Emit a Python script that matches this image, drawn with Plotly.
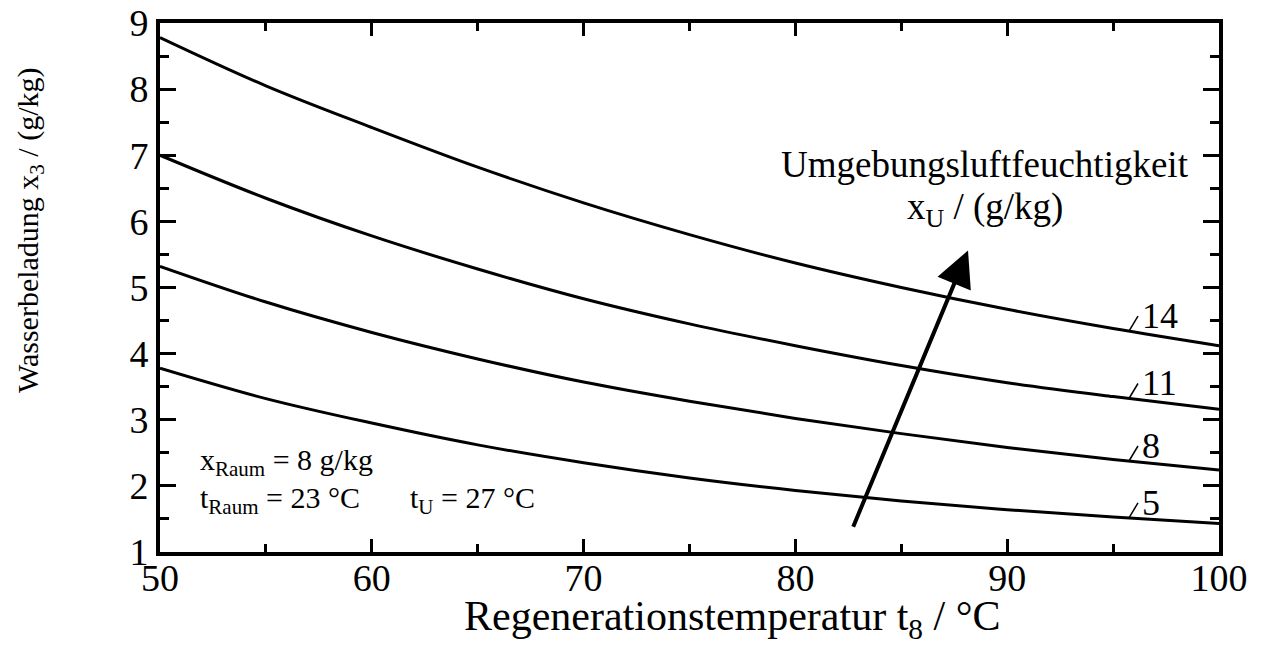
import plotly.graph_objects as go

# Regeneration temperature t8 in degC
t_reg = [50, 55, 60, 65, 70, 75, 80, 85, 90, 95, 100]

# Water loading x3 in g/kg for each ambient humidity x_U
x3_u5 = [3.78, 3.32, 2.95, 2.62, 2.35, 2.12, 1.93, 1.77, 1.64, 1.53, 1.43]
x3_u8 = [5.32, 4.78, 4.32, 3.92, 3.57, 3.28, 3.02, 2.79, 2.58, 2.40, 2.24]
x3_u11 = [7.00, 6.35, 5.78, 5.28, 4.83, 4.45, 4.12, 3.82, 3.56, 3.35, 3.16]
x3_u14 = [8.78, 8.05, 7.42, 6.82, 6.28, 5.80, 5.37, 5.00, 4.67, 4.38, 4.12]

curve_labels = ['5', '8', '11', '14']
curves = [x3_u5, x3_u8, x3_u11, x3_u14]

FONT = 'Liberation Serif'
LABEL_X = 95.75  # where the small label ticks sit on the curves


def value_at(xs, ys, xv):
    for i in range(len(xs) - 1):
        if xs[i] <= xv <= xs[i + 1]:
            f = (xv - xs[i]) / (xs[i + 1] - xs[i])
            return ys[i] + f * (ys[i + 1] - ys[i])
    return ys[-1]


fig = go.Figure()
for lab, ys in zip(curve_labels, curves):
    fig.add_trace(go.Scatter(x=t_reg, y=ys, mode='lines', name=lab,
                             line=dict(color='black', width=3, shape='spline'),
                             showlegend=False, hoverinfo='skip'))

shapes = []
annotations = []
for lab, ys in zip(curve_labels, curves):
    yv = value_at(t_reg, ys, LABEL_X)
    # short slanted tick from the curve up to the label
    shapes.append(dict(type='line', xref='x', yref='y',
                       xsizemode='pixel', ysizemode='pixel',
                       xanchor=LABEL_X, yanchor=yv,
                       x0=0, x1=9, y0=0, y1=15,
                       line=dict(color='black', width=1.5)))
    annotations.append(dict(x=LABEL_X, y=yv, xref='x', yref='y', text=lab,
                            showarrow=False, xanchor='left', yanchor='middle',
                            xshift=11, yshift=15,
                            font=dict(family=FONT, size=36, color='black')))

# arrow showing increasing ambient humidity
annotations.append(dict(x=88.15, y=5.56, ax=82.7, ay=1.36,
                        xref='x', yref='y', axref='x', ayref='y', text='',
                        showarrow=True, arrowhead=2, arrowsize=1.8,
                        arrowwidth=4, arrowcolor='black', standoff=0))
annotations.append(dict(x=88.95, y=6.86, xref='x', yref='y',
                        text='Umgebungsluftfeuchtigkeit', showarrow=False,
                        xanchor='center', yanchor='middle',
                        font=dict(family=FONT, size=37, color='black')))
annotations.append(dict(x=88.95, y=6.18, xref='x', yref='y',
                        text='x<sub>U</sub> / (g/kg)', showarrow=False,
                        xanchor='center', yanchor='middle',
                        font=dict(family=FONT, size=37, color='black')))

# boundary conditions
annotations.append(dict(x=51.8, y=2.36, xref='x', yref='y',
                        text='x<sub>Raum</sub> = 8 g/kg', showarrow=False,
                        xanchor='left', yanchor='middle',
                        font=dict(family=FONT, size=30, color='black')))
annotations.append(dict(x=51.8, y=1.79, xref='x', yref='y',
                        text='t<sub>Raum</sub> = 23 °C', showarrow=False,
                        xanchor='left', yanchor='middle',
                        font=dict(family=FONT, size=30, color='black')))
annotations.append(dict(x=61.7, y=1.79, xref='x', yref='y',
                        text='t<sub>U</sub> = 27 °C', showarrow=False,
                        xanchor='left', yanchor='middle',
                        font=dict(family=FONT, size=30, color='black')))

# axis titles placed as annotations (off-centre like the original)
annotations.append(dict(x=732, y=619, xref='paper', yref='paper',
                        text='Regenerationstemperatur t<sub>8</sub> / °C',
                        showarrow=False, xanchor='center', yanchor='middle',
                        font=dict(family=FONT, size=42, color='black')))
annotations.append(dict(x=30, y=230, xref='paper', yref='paper',
                        text='Wasserbeladung x<sub>3</sub> / (g/kg)',
                        showarrow=False, textangle=-90,
                        xanchor='center', yanchor='middle',
                        font=dict(family=FONT, size=30, color='black')))

# convert pixel positions of the two titles to paper coordinates
W, H = 1261, 646
ML, MR, MT, MB = 160, 42, 23, 94
for a in annotations[-2:]:
    a['x'] = (a['x'] - ML) / (W - ML - MR)
    a['y'] = (H - MB - a['y']) / (H - MT - MB)

axis_common = dict(showline=True, linecolor='black', linewidth=4, mirror='allticks',
                   ticks='inside', tickcolor='black', tickwidth=3,
                   showgrid=False, zeroline=False, automargin=False,
                   tickfont=dict(family=FONT, size=38, color='black'))

fig.update_layout(
    width=W, height=H,
    margin=dict(l=ML, r=MR, t=MT, b=MB, autoexpand=False),
    paper_bgcolor='white', plot_bgcolor='white',
    xaxis=dict(range=[50, 100], tick0=50, dtick=10, ticklen=13, ticklabelstandoff=-11,
               minor=dict(ticks='inside', dtick=5, ticklen=8, tickwidth=3, tickcolor='black'),
               **axis_common),
    yaxis=dict(range=[1, 9], tick0=1, dtick=1, ticklen=16,
               minor=dict(ticks='inside', dtick=0.5, ticklen=9, tickwidth=3, tickcolor='black'),
               **axis_common),
    shapes=shapes,
    annotations=annotations,
)

fig.write_html('out.html', config={'displayModeBar': False},
               post_script="document.body.style.margin='0px';document.body.style.overflow='hidden';")
